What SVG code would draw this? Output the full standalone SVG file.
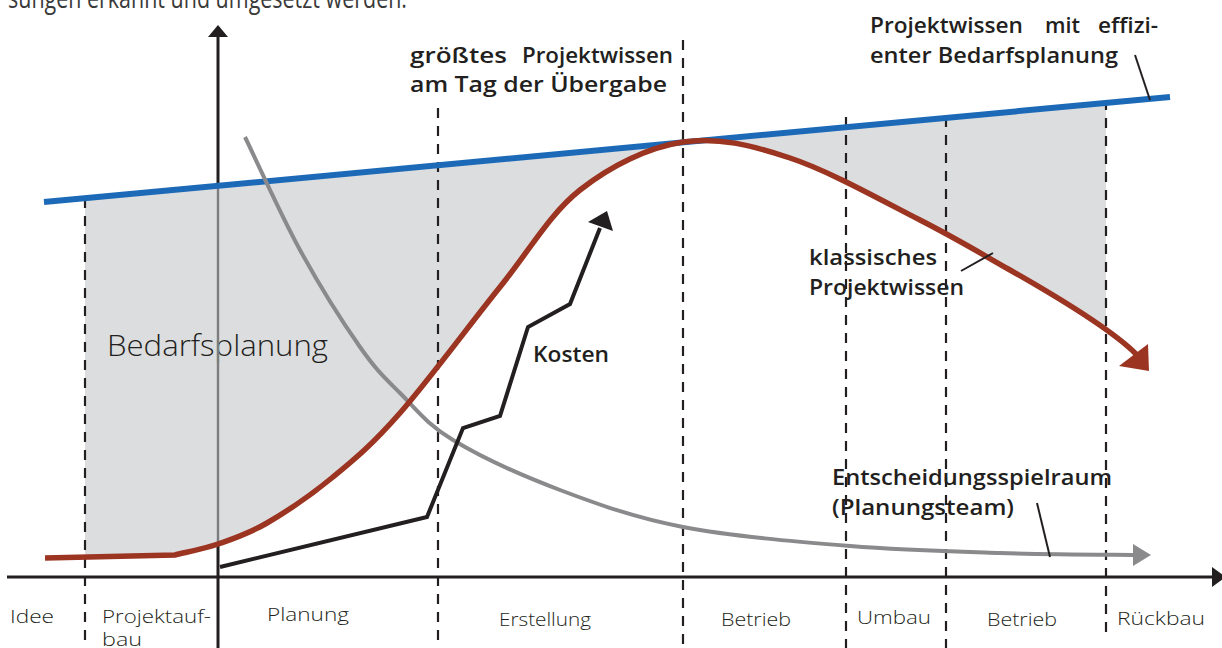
<svg xmlns="http://www.w3.org/2000/svg" width="1222" height="648" viewBox="0 0 1222 648">
  <defs>
    <style>
      .ink { fill: #231f20; }
      .lbl { font-family: "Open Sans", "Liberation Sans", sans-serif; font-weight: 600; font-size: 21px; fill: #231f20; }
      .thin { font-family: "Open Sans", "Liberation Sans", sans-serif; font-weight: 300; fill: #231f20; }
      .phase { font-size: 19px; }
      .dash { stroke: #231f20; stroke-width: 2.2; stroke-dasharray: 10 8; fill: none; }
      .axis { stroke: #231f20; stroke-width: 3; fill: none; }
      .leader { stroke: #231f20; stroke-width: 2; fill: none; }
    </style>
    <clipPath id="span">
      <rect x="85" y="0" width="1021" height="648"/>
    </clipPath>
  </defs>

  <rect width="1222" height="648" fill="#ffffff"/>

  <!-- running text above the chart -->
  <text x="8" y="8" font-family="'Open Sans', 'Liberation Sans', sans-serif" font-weight="400" font-size="27" textLength="399" lengthAdjust="spacingAndGlyphs" fill="#3a3a3a">sungen erkannt und umgesetzt werden.</text>

  <!-- knowledge gap between efficient and classic project knowledge -->
  <g id="area">
    <path fill="#dcdddf" clip-path="url(#span)" d="M60,200.5 L1170,97 L1136,354 C1111,329 1050,292.7 1010,270 C979.2,252.5 956.7,238.7 920,220 C883.3,201.3 829.5,171 790,158 C750.5,145 718,136.7 683,142 C648,147.3 610.5,165.8 580,190 C549.5,214.2 530,249.8 500,287 C470,324.2 427.8,381.3 400,413 C372.2,444.7 355.2,458.7 333,477 C310.8,495.3 286.2,511.8 267,523 C247.8,534.2 233.3,538.7 218,544 C202.7,549.3 182,553 175,555 L60,557 Z"/>
    <text class="thin" x="107" y="356" font-size="30" textLength="221" lengthAdjust="spacingAndGlyphs">Bedarfsplanung</text>
  </g>

  <!-- axes -->
  <g id="axes">
    <line class="axis" x1="218" y1="33" x2="218" y2="187"/>
    <line x1="218" y1="187" x2="218" y2="545" stroke="#7d7d7f" stroke-width="2.4"/>
    <line class="axis" x1="218" y1="545" x2="218" y2="648"/>
    <polygon class="ink" points="218,25 208,37 228,37"/>
    <line class="axis" x1="7" y1="577" x2="1214" y2="577"/>
    <polygon class="ink" points="1226,577 1212,567 1212,587"/>
  </g>

  <!-- phase boundaries -->
  <g id="phases">
    <line class="dash" x1="85" y1="198" x2="85" y2="648"/>
    <line class="dash" x1="438" y1="108" x2="438" y2="648"/>
    <line class="dash" x1="683" y1="40" x2="683" y2="648"/>
    <line class="dash" x1="846" y1="117" x2="846" y2="648"/>
    <line class="dash" x1="946" y1="117" x2="946" y2="648"/>
    <line class="dash" x1="1106" y1="100" x2="1106" y2="640"/>
  </g>

  <!-- phase labels -->
  <g id="phase-labels" class="thin phase">
    <text x="10" y="623" textLength="44" lengthAdjust="spacingAndGlyphs">Idee</text>
    <text x="102" y="623" textLength="109" lengthAdjust="spacingAndGlyphs">Projektauf-</text>
    <text x="102" y="646" textLength="40" lengthAdjust="spacingAndGlyphs">bau</text>
    <text x="267" y="621" textLength="82" lengthAdjust="spacingAndGlyphs">Planung</text>
    <text x="499" y="626" textLength="92" lengthAdjust="spacingAndGlyphs">Erstellung</text>
    <text x="721" y="626" textLength="70" lengthAdjust="spacingAndGlyphs">Betrieb</text>
    <text x="857" y="624" textLength="74" lengthAdjust="spacingAndGlyphs">Umbau</text>
    <text x="987" y="626" textLength="70" lengthAdjust="spacingAndGlyphs">Betrieb</text>
    <text x="1117" y="625" textLength="88" lengthAdjust="spacingAndGlyphs">Rückbau</text>
  </g>

  <!-- efficient planning: project knowledge line -->
  <g id="efficient">
    <line x1="44" y1="202" x2="1170" y2="97" stroke="#1c6ab7" stroke-width="6"/>
    <line class="leader" x1="1135" y1="55" x2="1150" y2="100"/>
    <text class="lbl" x="870" y="33" textLength="153" lengthAdjust="spacingAndGlyphs">Projektwissen</text>
    <text class="lbl" x="1045" y="33" textLength="35" lengthAdjust="spacingAndGlyphs">mit</text>
    <text class="lbl" x="1098" y="33" textLength="60" lengthAdjust="spacingAndGlyphs">effizi-</text>
    <text class="lbl" x="870" y="63" textLength="248" lengthAdjust="spacingAndGlyphs">enter Bedarfsplanung</text>
  </g>

  <!-- scope for decisions -->
  <g id="decision">
    <path fill="none" stroke="#8a8a8c" stroke-width="4" d="M245,137 C254.2,155.8 280.8,215 300,250 C319.2,285 343.3,323.2 360,347 C376.7,370.8 384.5,377.5 400,393 C415.5,408.5 426.3,423.8 453,440 C479.7,456.2 521.7,475.5 560,490 C598.3,504.5 634.7,517.7 683,527 C731.3,536.3 797.2,541.7 850,546 C902.8,550.3 952.5,551.5 1000,553 C1047.5,554.5 1112.5,554.7 1136,555"/>
    <polygon fill="#8a8a8c" points="1151,555 1133,544 1133,566"/>
    <line class="leader" x1="1037" y1="503" x2="1050" y2="557"/>
    <text class="lbl" x="832" y="485" textLength="280" lengthAdjust="spacingAndGlyphs">Entscheidungsspielraum</text>
    <text class="lbl" x="832" y="515" textLength="182" lengthAdjust="spacingAndGlyphs">(Planungsteam)</text>
  </g>

  <!-- classic project knowledge -->
  <g id="classic">
    <path fill="none" stroke="#9b3421" stroke-width="5.5" d="M45,558 L175,555 C182,553 202.7,549.3 218,544 C233.3,538.7 247.8,534.2 267,523 C286.2,511.8 310.8,495.3 333,477 C355.2,458.7 372.2,444.7 400,413 C427.8,381.3 470,324.2 500,287 C530,249.8 549.5,214.2 580,190 C610.5,165.8 648,147.3 683,142 C718,136.7 750.5,145 790,158 C829.5,171 883.3,201.3 920,220 C956.7,238.7 979.2,252.5 1010,270 C1050,292.7 1111,329 1136,354"/>
    <polygon fill="#9b3421" points="1149,371 1119,366 1148,344"/>
    <line class="leader" x1="961" y1="271" x2="993" y2="253"/>
    <text class="lbl" x="809" y="265" textLength="128" lengthAdjust="spacingAndGlyphs">klassisches</text>
    <text class="lbl" x="809" y="295" textLength="155" lengthAdjust="spacingAndGlyphs">Projektwissen</text>
  </g>

  <!-- costs -->
  <g id="costs">
    <polyline fill="none" stroke="#231f20" stroke-width="4" stroke-linejoin="miter" points="220,567 427,517 463,428 500,416 528,327 570,304 600,228"/>
    <polygon class="ink" points="607,211 588,222 613,231"/>
    <text class="lbl" x="533" y="362" textLength="76" lengthAdjust="spacingAndGlyphs">Kosten</text>
  </g>

  <!-- handover label -->
  <g id="handover">
    <text class="lbl" x="410" y="63" textLength="97" lengthAdjust="spacingAndGlyphs">größtes</text>
    <text class="lbl" x="522" y="63" textLength="151" lengthAdjust="spacingAndGlyphs">Projektwissen</text>
    <text class="lbl" x="410" y="92" textLength="257" lengthAdjust="spacingAndGlyphs">am Tag der Übergabe</text>
  </g>
</svg>
